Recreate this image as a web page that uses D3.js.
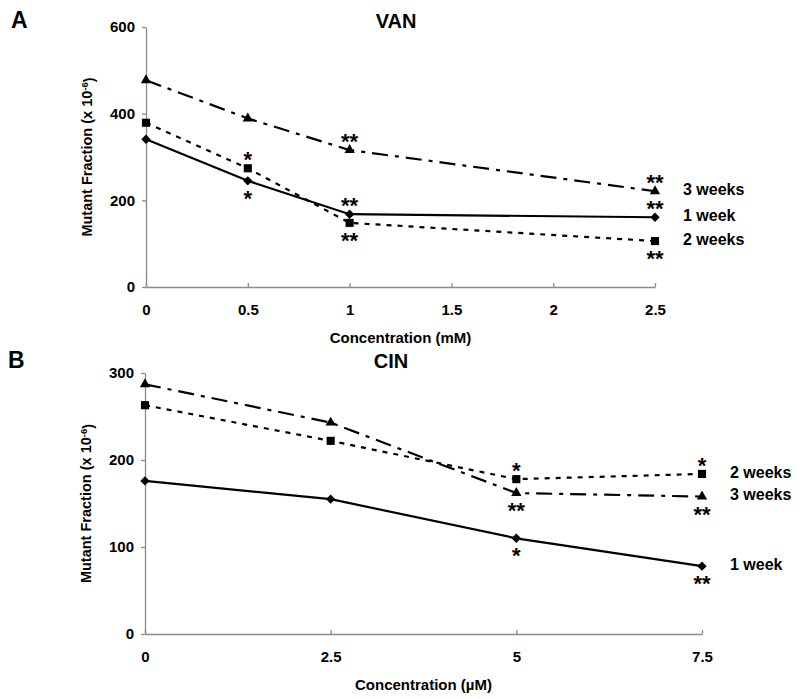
<!DOCTYPE html>
<html>
<head>
<meta charset="utf-8">
<script src="https://cdn.jsdelivr.net/npm/d3@7"></script>
<style>
  html, body { margin: 0; padding: 0; background: #fff; }
  svg { display: block; font-family: "Liberation Sans", Arial, sans-serif; }
</style>
</head>
<body>
<svg id="chart" width="800" height="699"></svg>
<script>
// ---------- Data ----------
const seriesNames = ["1 week", "2 weeks", "3 weeks"];

// Panel A: VAN
const vanConc = [0, 0.5, 1, 2.5];
const vanWeek1 = [341, 245, 168, 161];
const vanWeek2 = [379, 274, 148, 106];
const vanWeek3 = [477, 389, 316, 221];
const vanTicksX = [0, 0.5, 1, 1.5, 2, 2.5];
const vanTicksY = [0, 200, 400, 600];
// significance marks: [series index, conc index, text, side]
const vanStars = [
  [1, 1, "*", "above"], [0, 1, "*", "below"],
  [2, 2, "**", "above"], [0, 2, "**", "above"], [1, 2, "**", "below"],
  [2, 3, "**", "above"], [2, 3, "**", "below"], [1, 3, "**", "below"]
];

// Panel B: CIN
const cinConc = [0, 2.5, 5, 7.5];
const cinWeek1 = [176, 155, 110, 78];
const cinWeek2 = [263, 222, 178, 184];
const cinWeek3 = [287, 243, 162, 158];
const cinTicksX = [0, 2.5, 5, 7.5];
const cinTicksY = [0, 100, 200, 300];
const cinStars = [
  [1, 2, "*", "above"], [2, 2, "**", "below"], [0, 2, "*", "below"],
  [1, 3, "*", "above"], [2, 3, "**", "below"], [0, 3, "**", "below"]
];

// ---------- Drawing ----------
const svg = d3.select("#chart");
const dashes = ["none", "5,6", "16,7,4,7"];
const symbols = [
  d3.symbol().type(d3.symbolSquare).size(44),   // diamond (rotated)
  d3.symbol().type(d3.symbolSquare).size(66),
  d3.symbol().type(d3.symbolTriangle).size(46)
];
const rotations = [45, 0, 0];

function panel(opts) {
  const x = d3.scaleLinear().domain(opts.xDomain).range(opts.xRange);
  const y = d3.scaleLinear().domain(opts.yDomain).range(opts.yRange);
  const g = svg.append("g");

  // axes
  const xAxis = d3.axisBottom(x).tickValues(opts.ticksX).tickFormat(d => String(d))
    .tickSizeInner(-4).tickSizeOuter(0).tickPadding(17);
  const yAxis = d3.axisLeft(y).tickValues(opts.ticksY).tickFormat(d => String(d))
    .tickSizeInner(4).tickSizeOuter(0).tickPadding(7);

  const gx = g.append("g").attr("transform", `translate(0,${opts.yRange[0]})`).call(xAxis);
  const gy = g.append("g").attr("transform", `translate(${opts.xRange[0]},0)`).call(yAxis);
  [gx, gy].forEach(a => {
    a.selectAll("path, line").attr("stroke", "#8a8a8a").attr("stroke-width", 1.3);
    a.selectAll("text").attr("fill", "#000").style("font-size", "15px").style("font-weight", "bold");
  });

  const line = d3.line().x((d, i) => x(opts.conc[i])).y(d => y(d));

  opts.series.forEach((vals, s) => {
    g.append("path")
      .datum(vals)
      .attr("d", line)
      .attr("fill", "none")
      .attr("stroke", "#000")
      .attr("stroke-width", 2.2)
      .attr("stroke-dasharray", dashes[s]);
  });
  opts.series.forEach((vals, s) => {
    g.selectAll(null).data(vals).enter().append("path")
      .attr("d", symbols[s])
      .attr("fill", "#000")
      .attr("transform", (d, i) => `translate(${x(opts.conc[i])},${y(d)}) rotate(${rotations[s]})`);
  });

  // significance asterisks
  opts.stars.forEach(([s, i, txt, side]) => {
    const cx = x(opts.conc[i]);
    const cy = y(opts.series[s][i]) + (side === "above" ? -13 : 13);
    g.append("text")
      .attr("x", cx).attr("y", cy + 12)
      .attr("text-anchor", "middle")
      .style("font-size", "22px").style("font-weight", "bold")
      .text(txt);
  });

  // series labels
  opts.series.forEach((vals, s) => {
    g.append("text")
      .attr("x", opts.xRange[1] + 28)
      .attr("y", y(vals[vals.length - 1]) - 2)
      .attr("dy", "0.36em")
      .style("font-size", "16px").style("font-weight", "bold")
      .text(seriesNames[s]);
  });

  // title, panel letter
  g.append("text").attr("x", opts.titleX).attr("y", opts.titleY)
    .attr("text-anchor", "middle").style("font-size", "20px").style("font-weight", "bold")
    .text(opts.title);
  g.append("text").attr("x", opts.letterX).attr("y", opts.titleY)
    .style("font-size", "23px").style("font-weight", "bold")
    .text(opts.letter);

  // x axis title
  g.append("text")
    .attr("x", (opts.xRange[0] + opts.xRange[1]) / 2)
    .attr("y", opts.yRange[0] + 56)
    .attr("text-anchor", "middle")
    .style("font-size", "15px").style("font-weight", "bold")
    .text(opts.xTitle);

  // y axis title
  const yt = g.append("text")
    .attr("transform", `translate(${opts.xRange[0] - 54},${(opts.yRange[0] + opts.yRange[1]) / 2}) rotate(-90)`)
    .attr("text-anchor", "middle")
    .style("font-size", "14.5px").style("font-weight", "bold");
  yt.append("tspan").text("Mutant Fraction (x 10");
  yt.append("tspan").attr("dy", "-0.45em").style("font-size", "9.5px").text("-6");
  yt.append("tspan").attr("dy", "0.45em").text(")");
}

panel({
  xDomain: [0, 2.5], xRange: [146, 655],
  yDomain: [0, 600], yRange: [287, 27],
  conc: vanConc, series: [vanWeek1, vanWeek2, vanWeek3],
  ticksX: vanTicksX, ticksY: vanTicksY, stars: vanStars,
  title: "VAN", titleX: 396, titleY: 28, letter: "A", letterX: 11,
  xTitle: "Concentration (mM)"
});

panel({
  xDomain: [0, 7.5], xRange: [145, 702],
  yDomain: [0, 300], yRange: [634, 373],
  conc: cinConc, series: [cinWeek1, cinWeek2, cinWeek3],
  ticksX: cinTicksX, ticksY: cinTicksY, stars: cinStars,
  title: "CIN", titleX: 391, titleY: 368, letter: "B", letterX: 8,
  xTitle: "Concentration (\u00B5M)"
});
</script>
</body>
</html>
